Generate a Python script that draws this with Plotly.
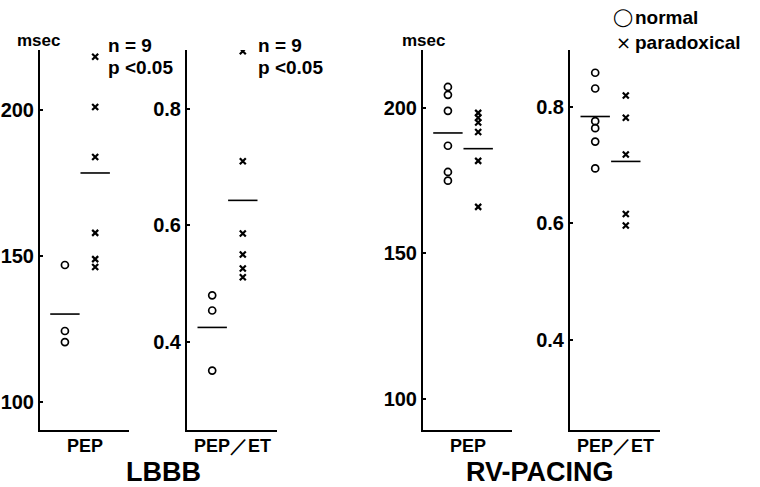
import plotly.graph_objects as go

W, H = 760, 487

# ---- data ----
panel_names = ["PEP", "PEP／ET", "PEP", "PEP／ET"]
group_names = ["LBBB", "RV-PACING"]
legend_labels = ["normal", "paradoxical"]

lbbb_pep_normal = [146.9, 124.3, 120.5]
lbbb_pep_parad = [218.2, 201.0, 183.9, 157.9, 148.9, 146.2]
lbbb_pep_means = [130.1, 178.4]

lbbb_ratio_normal = [0.480, 0.454, 0.351]
lbbb_ratio_parad = [0.899, 0.710, 0.586, 0.550, 0.526, 0.511]
lbbb_ratio_means = [0.425, 0.643]

rv_pep_normal = [207.2, 204.5, 199.0, 187.0, 178.0, 175.0]
rv_pep_parad = [198.3, 196.6, 195.0, 191.7, 181.8, 166.0]
rv_pep_means = [191.4, 186.0]

rv_ratio_normal = [0.858, 0.831, 0.775, 0.763, 0.740, 0.694]
rv_ratio_parad = [0.819, 0.781, 0.718, 0.616, 0.596]
rv_ratio_means = [0.783, 0.706]

msec_ticks = [100, 150, 200]
ratio_ticks = [0.4, 0.6, 0.8]
ratio_ticktext = ["0.4", "0.6", "0.8"]
stats_text = ["n = 9", "p <0.05"]

# ---- layout helpers ----
def px_x(x):
    return x / W

def px_y(y):
    return 1 - y / H

panels = [
    dict(normal=lbbb_pep_normal, parad=lbbb_pep_parad, means=lbbb_pep_means,
         dom=(40, 129), rng=(90.41, 220.5), ticks=msec_ticks, ticktext=[str(t) for t in msec_ticks]),
    dict(normal=lbbb_ratio_normal, parad=lbbb_ratio_parad, means=lbbb_ratio_means,
         dom=(187, 277), rng=(0.249, 0.901), ticks=ratio_ticks, ticktext=ratio_ticktext),
    dict(normal=rv_pep_normal, parad=rv_pep_parad, means=rv_pep_means,
         dom=(423, 512), rng=(89.35, 219.9), ticks=msec_ticks, ticktext=[str(t) for t in msec_ticks]),
    dict(normal=rv_ratio_normal, parad=rv_ratio_parad, means=rv_ratio_means,
         dom=(570, 660), rng=(0.2456, 0.897), ticks=ratio_ticks, ticktext=ratio_ticktext),
]

X_NORMAL, X_PARAD = 0.28, 0.62
YDOM = [px_y(430), px_y(50)]
BOLD = "Liberation Sans"
TICKFONT = dict(family="Liberation Sans Narrow, Liberation Sans, Arial", size=20, color="black", weight="bold")

fig = go.Figure()
layout = dict(
    width=W, height=H,
    margin=dict(l=0, r=0, t=0, b=0),
    paper_bgcolor="white", plot_bgcolor="white",
    showlegend=False,
    annotations=[],
)


def note(x, y, text, size, xanchor="center", weight="bold", family=BOLD):
    layout["annotations"].append(dict(
        x=px_x(x), y=px_y(y), xref="paper", yref="paper", text=text, showarrow=False,
        xanchor=xanchor, yanchor="middle",
        font=dict(family=family, size=size, color="black", weight=weight),
    ))


for i, p in enumerate(panels):
    k = "" if i == 0 else str(i + 1)
    xa, ya = "x" + k, "y" + k
    fig.add_trace(go.Scatter(
        x=[X_NORMAL] * len(p["normal"]), y=p["normal"], xaxis=xa, yaxis=ya,
        mode="markers", name=legend_labels[0],
        marker=dict(symbol="circle-open", size=7, color="black", line=dict(width=1.7, color="black")),
    ))
    fig.add_trace(go.Scatter(
        x=[X_PARAD] * len(p["parad"]), y=p["parad"], xaxis=xa, yaxis=ya,
        mode="markers", name=legend_labels[1],
        marker=dict(symbol="x-thin-open", size=6, color="black", line=dict(width=2.2, color="black")),
    ))
    fig.add_trace(go.Scatter(
        x=[X_NORMAL, X_PARAD], y=p["means"], xaxis=xa, yaxis=ya,
        mode="markers", name="mean",
        marker=dict(symbol="line-ew-open", size=21, color="black", line=dict(width=1.6, color="black")),
    ))
    layout["xaxis" + k] = dict(
        domain=[px_x(p["dom"][0]), px_x(p["dom"][1])], range=[0, 1],
        anchor=ya, showline=True, linecolor="black", linewidth=2,
        showgrid=False, zeroline=False, showticklabels=False, ticks="",
    )
    layout["yaxis" + k] = dict(
        domain=YDOM, range=list(p["rng"]), anchor=xa,
        showline=True, linecolor="black", linewidth=2,
        showgrid=False, zeroline=False,
        tickvals=p["ticks"], ticktext=p["ticktext"],
        ticks="inside", ticklen=3, tickwidth=1.5, tickcolor="black",
        tickfont=TICKFONT,
    )
    # category label under the panel
    note((p["dom"][0] + p["dom"][1]) / 2, 446, panel_names[i], 18)

# group labels
for name, cx in zip(group_names, [163, 540]):
    note(cx, 472, name, 27)

# msec units (centred over the y axes)
for xc in [38, 424]:
    note(xc, 41, "msec", 17)

# statistics text
for xl in [106, 256]:
    for txt, yy in zip(stats_text, [46, 68]):
        note(xl, yy, txt, 19, xanchor="left")

# legend
for sym, lab, yy in zip(["◯", "×"], legend_labels, [17, 42]):
    note(623, yy, sym, 18, weight="normal", family="DejaVu Sans")
    note(633, yy, lab, 19, xanchor="left")

fig.update_layout(**layout)
fig.write_html(
    "out.html",
    config={"displayModeBar": False},
    post_script="document.body.style.margin='0';document.body.style.overflow='hidden';",
)
